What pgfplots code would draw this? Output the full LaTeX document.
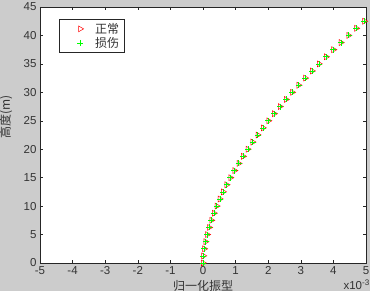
\documentclass[border=0pt]{standalone}
\usepackage{pgfplots}
\pgfplotsset{compat=1.18}
\usepackage{pgfplotstable}
\usepackage{fontspec}
\setmainfont{Liberation Sans}
\newfontfamily\cjk{Noto Sans CJK SC}
\definecolor{figbg}{rgb}{0.8,0.8,0.8}
\definecolor{axcol}{rgb}{0.15,0.15,0.15}
\definecolor{txtcol}{rgb}{0.2,0.2,0.2}
\pgfplotsset{mylegimg/.style={legend image code/.code={\path[draw=none,fill=none] (0pt,-1pt) (31pt,1pt); \draw[##1] plot coordinates {(18pt,0pt)};}}}
\pgfplotstableread{
x y
0.0000 0
0.0123 1.25
0.0401 2.50
0.0798 3.75
0.1302 5.00
0.1902 6.25
0.2593 7.50
0.3371 8.75
0.4230 10.00
0.5166 11.25
0.6180 12.50
0.7267 13.75
0.8427 15.00
0.9654 16.25
1.0953 17.50
1.2316 18.75
1.3743 20.00
1.5235 21.25
1.6790 22.50
1.8404 23.75
2.0081 25.00
2.1819 26.25
2.3612 27.50
2.5469 28.75
2.7382 30.00
2.9347 31.25
3.1371 32.50
3.3448 33.75
3.5583 35.00
3.7768 36.25
4.0011 37.50
4.2304 38.75
4.4647 40.00
4.7048 41.25
4.9500 42.50
}\normaltab
\pgfplotstableread{
x y
0.0000 0
0.0123 1.25
0.0401 2.50
0.0798 3.75
0.1302 5.00
0.1902 6.25
0.2593 7.50
0.3371 8.75
0.4230 10.00
0.5166 11.25
0.6180 12.50
0.7267 13.75
0.8427 15.00
0.9654 16.25
1.0953 17.50
1.2316 18.75
1.3743 20.00
1.5235 21.25
1.6790 22.50
1.8404 23.75
2.0081 25.00
2.1819 26.25
2.3612 27.50
2.5469 28.75
2.7382 30.00
2.9347 31.25
3.1371 32.50
3.3448 33.75
3.5583 35.00
3.7768 36.25
4.0011 37.50
4.2304 38.75
4.4647 40.00
4.7048 41.25
4.9500 42.50
}\damagedtab
\begin{document}
\begin{tikzpicture}[x=1pt,y=1pt]
\useasboundingbox (0,0) rectangle (370,291);
\fill[figbg] (0,0) rectangle (370,291);
\begin{axis}[
  at={(40pt,28pt)}, anchor=south west,
  width=326pt, height=256pt, scale only axis,
  xmin=-5, xmax=5, ymin=0, ymax=45,
  xtick={-5,-4,...,5}, ytick={0,5,...,45},
  tick align=inside, major tick length=3.3pt,
  axis line style={axcol, line width=0.6pt},
  every tick/.style={axcol, line width=0.5pt},
  axis background/.style={fill=white},
  /pgf/number format/assume math mode=true,
  tick label style={font=\fontsize{11.5}{13}\selectfont, text=txtcol},
  xlabel={\cjk 归一化振型},
  ylabel={\cjk 高度(m)},
  label style={font=\cjk\fontsize{12}{14}\selectfont, text=txtcol},
  xlabel style={at={(axis description cs:0.5,0)}, anchor=center, yshift=-23pt},
  ylabel style={at={(axis description cs:-0.104,0.57)}, anchor=center},
  legend cell align=left,
  legend style={at={(axis description cs:0.058,0.954)}, anchor=north west,
    draw=axcol, line width=0.6pt, font=\cjk\fontsize{12}{13}\selectfont,
    inner xsep=3pt, inner ysep=2pt, row sep=-1.5pt, text=txtcol},
]
\addplot[only marks, mylegimg, red, mark=triangle, mark size=3.4pt, mark options={rotate=-90, line width=0.5pt}]
  table[x=x,y=y] {\normaltab};
\addlegendentry{正常}
\addplot[only marks, mylegimg, green, mark=+, mark size=3pt, mark options={line width=0.6pt}]
  table[x=x,y=y] {\damagedtab};
\addlegendentry{损伤}
\end{axis}
\node[anchor=base east, font=\fontsize{11.5}{13}\selectfont, text=txtcol, inner sep=0pt] at (370,1) {x10\textsuperscript{-3}};
\end{tikzpicture}
\end{document}
